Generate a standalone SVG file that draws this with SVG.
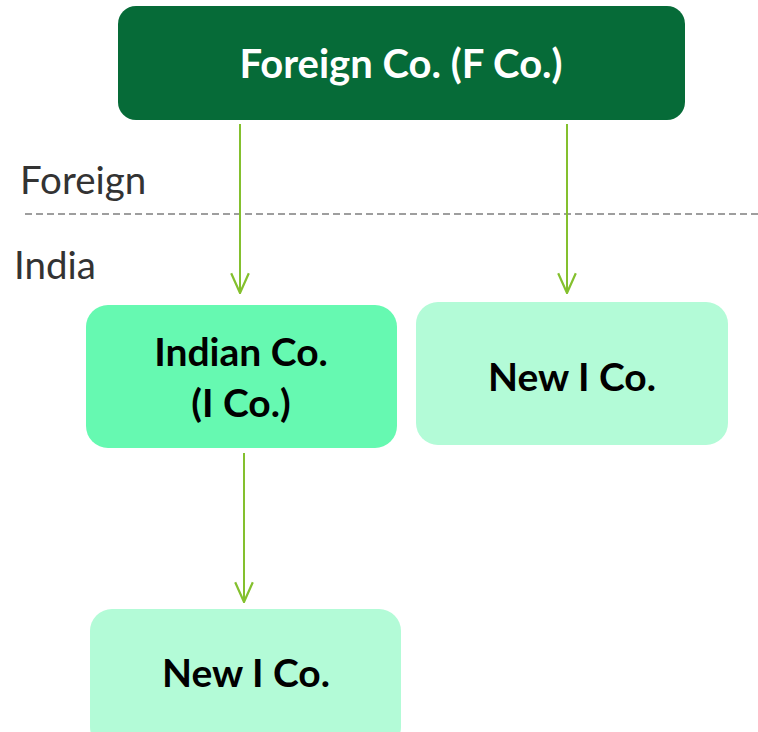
<svg xmlns="http://www.w3.org/2000/svg" width="758" height="732" viewBox="0 0 758 732">
<style>
.lbl{font-family:Lato,"Open Sans","Liberation Sans",sans-serif;font-weight:bold;font-size:39px;fill:#000;text-anchor:middle}
.side{font-family:Lato,"Open Sans","Liberation Sans",sans-serif;font-size:38.5px;fill:#333}
.conn{stroke:#84C02E;stroke-width:2;fill:none}
</style>
<defs>
<marker id="arr" markerWidth="22" markerHeight="22" refX="19" refY="9" orient="auto" markerUnits="userSpaceOnUse" viewBox="0 0 20 18">
<path d="M1,1 L19,9 L1,17" fill="none" stroke="#84C02E" stroke-width="2"/>
</marker>
</defs>
<rect width="758" height="732" fill="#fff"/>
<g id="divider">
<line x1="25" y1="214" x2="758" y2="214" stroke="#7F7F7F" stroke-width="1.5" stroke-dasharray="7,4"/>
<text class="side" x="20" y="194">Foreign</text>
<text class="side" x="14" y="279">India</text>
</g>
<g id="connectors">
<line class="conn" x1="240" y1="124" x2="240" y2="293" marker-end="url(#arr)"/>
<line class="conn" x1="567" y1="124" x2="567" y2="293" marker-end="url(#arr)"/>
<line class="conn" x1="244" y1="453" x2="244" y2="602" marker-end="url(#arr)"/>
</g>
<g id="fco">
<rect x="118" y="6" width="567" height="114" rx="18" fill="#066B38"/>
<text class="lbl" x="401" y="78" style="fill:#fff;font-size:40px">Foreign Co. (F Co.)</text>
</g>
<g id="ico">
<rect x="86" y="305" width="311" height="143" rx="22" fill="#66F9B1"/>
<text class="lbl" x="241" y="366">Indian Co.</text>
<text class="lbl" x="241" y="417">(I Co.)</text>
</g>
<g id="newico1">
<rect x="416" y="302" width="312" height="143" rx="22" fill="#B3FBD7"/>
<text class="lbl" x="572" y="391">New I Co.</text>
</g>
<g id="newico2">
<rect x="90" y="609" width="311" height="140" rx="22" fill="#B3FBD7"/>
<text class="lbl" x="246" y="687">New I Co.</text>
</g>
</svg>
